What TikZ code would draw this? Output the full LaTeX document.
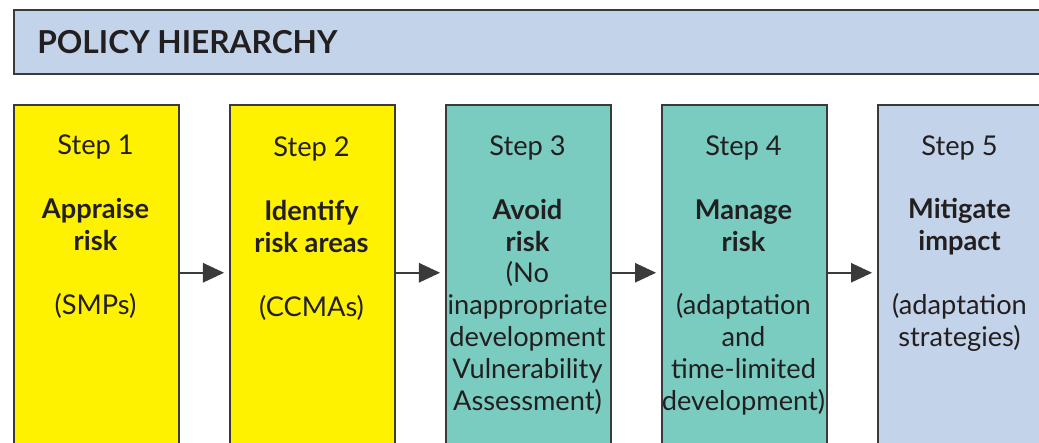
\documentclass[tikz,border=0pt]{standalone}
\usepackage{fontspec}
\setmainfont{Lato}
\usetikzlibrary{positioning,arrows.meta}
\definecolor{stepyellow}{HTML}{FFF200}
\definecolor{stepteal}{HTML}{7ACCC1}
\definecolor{stepblue}{HTML}{C3D4EA}
\definecolor{edgegray}{HTML}{3A3A3A}
\definecolor{inkgray}{HTML}{231F20}
\tikzset{
  stepbox/.style={draw=edgegray,line width=0.9pt,minimum width=3.3cm,minimum height=7.32cm,anchor=north west,inner sep=0pt},
  steptext/.style={align=center,font=\fontsize{15.5}{18.1}\selectfont,text=inkgray,anchor=base,inner sep=0pt},
  steparrow/.style={draw=edgegray,line width=0.9pt,shorten >=2.8pt,-{Triangle[length=12pt,width=11pt]}}
}
\begin{document}
\begin{tikzpicture}[x=0.02cm,y=-0.02cm]
  \useasboundingbox (0,0) rectangle (1039,443);
  \clip (0,0) rectangle (1039,443);
  % title bar
  \node[draw=edgegray,fill=stepblue,line width=0.9pt,anchor=north west,minimum width=20.94cm,minimum height=1.28cm] (title) at (13,9) {};
  \node[anchor=base west,inner sep=0pt,text=inkgray,font=\fontsize{18}{20}\selectfont\bfseries] (titletext) at (37,53) {POLICY HIERARCHY};
  % the five steps
  \node[stepbox,fill=stepyellow] (s1) at (13,104) {};
  \node[stepbox,fill=stepyellow] (s2) at (229,104) {};
  \node[stepbox,fill=stepteal] (s3) at (445,104) {};
  \node[stepbox,fill=stepteal] (s4) at (661,104) {};
  \node[stepbox,fill=stepblue] (s5) at (877,104) {};
  % text sits on the baseline of its last line
  \node[steptext] (t1) at (95.5,314) {Step 1\\[18.1pt]\textbf{Appraise}\\\textbf{risk}\\[18.1pt](SMPs)};
  \node[steptext] (t2) at (311.5,316) {Step 2\\[18.1pt]\textbf{Identify}\\\textbf{risk areas}\\[18.1pt](CCMAs)};
  \node[steptext] (t3) at (527.5,410) {Step 3\\[18.1pt]\textbf{Avoid}\\\textbf{risk}\\(No\\inappropriate\\development\\Vulnerability\\Assessment)};
  \node[steptext] (t4) at (743.5,410) {Step 4\\[18.1pt]\textbf{Manage}\\\textbf{risk}\\[18.1pt](adaptation\\and\\time-limited\\development)};
  \node[steptext] (t5) at (959.5,346) {Step 5\\[18.1pt]\textbf{Mitigate}\\\textbf{impact}\\[18.1pt](adaptation\\strategies)};
  % arrows between steps
  \draw[steparrow] ([yshift=0.3cm]s1.east) -- ([yshift=0.3cm]s2.west);
  \draw[steparrow] ([yshift=0.3cm]s2.east) -- ([yshift=0.3cm]s3.west);
  \draw[steparrow] ([yshift=0.3cm]s3.east) -- ([yshift=0.3cm]s4.west);
  \draw[steparrow] ([yshift=0.3cm]s4.east) -- ([yshift=0.3cm]s5.west);
\end{tikzpicture}
\end{document}
